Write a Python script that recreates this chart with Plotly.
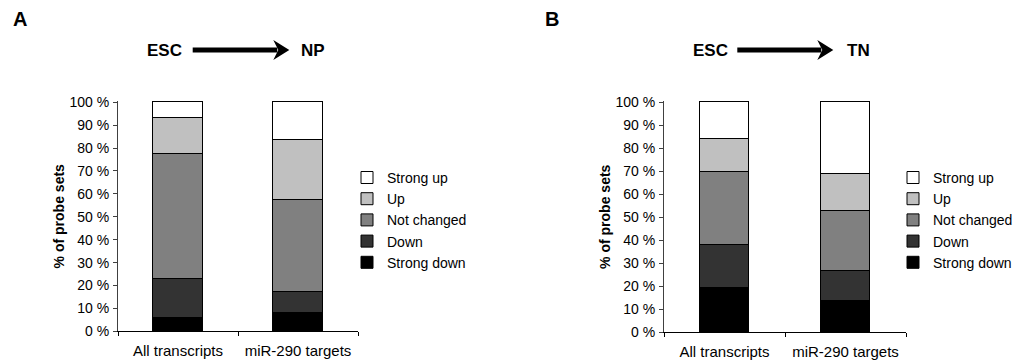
import plotly.graph_objects as go

W, H = 1022, 360
# effective rendered paper height and top offset observed in the screenshot
H_EFF, Y_OFF = 342, 10

categories = ["All transcripts", "miR-290 targets"]
series_names = ["Strong down", "Down", "Not changed", "Up", "Strong up"]
series_colors = ["#000000", "#333333", "#808080", "#c0c0c0", "#ffffff"]

# Panel A: ESC -> NP (percent of probe sets)
a_strong_down = [5.7, 8.0]
a_down = [17.0, 9.1]
a_not_changed = [54.8, 40.4]
a_up = [15.8, 25.8]
a_strong_up = [6.7, 16.7]

# Panel B: ESC -> TN
b_strong_down = [19.1, 13.8]
b_down = [18.9, 12.7]
b_not_changed = [31.7, 26.3]
b_up = [14.4, 15.9]
b_strong_up = [15.9, 31.3]

y_tickvals = [0, 10, 20, 30, 40, 50, 60, 70, 80, 90, 100]
y_ticktext = ["0 %", "10 %", "20 %", "30 %", "40 %", "50 %", "60 %", "70 %", "80 %", "90 %", "100 %"]

FONT = "Arial, Liberation Sans, sans-serif"


def px(x):
    return x / W


def py(y):
    return 1 - (y - Y_OFF) / H_EFF


fig = go.Figure()

a_series = [a_strong_down, a_down, a_not_changed, a_up, a_strong_up]
b_series = [b_strong_down, b_down, b_not_changed, b_up, b_strong_up]

for name, color, vals in zip(series_names, series_colors, a_series):
    fig.add_trace(go.Bar(x=categories, y=vals, name=name, width=0.41,
                         marker=dict(color=color, line=dict(color="black", width=1)),
                         xaxis="x", yaxis="y", legend="legend"))
for name, color, vals in zip(series_names, series_colors, b_series):
    fig.add_trace(go.Bar(x=categories, y=vals, name=name, width=0.41,
                         marker=dict(color=color, line=dict(color="black", width=1)),
                         xaxis="x2", yaxis="y2", legend="legend2"))

xcommon = dict(type="category", range=[-0.5, 1.5], showline=True, linecolor="black", linewidth=1,
               ticks="outside", ticklen=4, tickcolor="black", tickson="boundaries",
               tickfont=dict(family=FONT, size=15, color="black"), ticklabelstandoff=6,
               showgrid=False, zeroline=False, fixedrange=True)
ycommon = dict(range=[0, 100.5], tickvals=y_tickvals, ticktext=y_ticktext, showline=True,
               linecolor="#404040", linewidth=1, ticks="outside", ticklen=4, tickcolor="#404040",
               tickfont=dict(family=FONT, size=14, color="black"), ticklabelstandoff=1,
               showgrid=False, zeroline=False,
               title=dict(text="<b>% of probe sets</b>", font=dict(family=FONT, size=14, color="black"),
                          standoff=1),
               fixedrange=True)

legcommon = dict(font=dict(family=FONT, size=14, color="black"), traceorder="reversed",
                 bgcolor="rgba(0,0,0,0)", xanchor="left", yanchor="top", itemwidth=30)

top_px = 104.7 - 0.5 * 2.278
fig.update_layout(
    width=W, height=H, margin=dict(l=0, r=0, t=0, b=0),
    paper_bgcolor="white", plot_bgcolor="white", barmode="stack", bargap=0,
    xaxis=dict(domain=[px(118), px(358)], anchor="y", **xcommon),
    yaxis=dict(domain=[py(332.5), py(top_px)], anchor="x", **ycommon),
    xaxis2=dict(domain=[px(664), px(906)], anchor="y2", **xcommon),
    yaxis2=dict(domain=[py(333.5), py(top_px)], anchor="x2", **ycommon),
    legend=dict(x=px(347), y=py(164), **legcommon),
    legend2=dict(x=px(893), y=py(164), **legcommon),
    showlegend=True,
)

# Panel letters and transition titles
labels = [("A", 20, 22, 20), ("B", 552, 22, 20),
          ("ESC", 164, 53, 17), ("NP", 313, 53, 17),
          ("ESC", 710.5, 53, 17), ("TN", 858, 53, 17)]
for text, x, y, size in labels:
    fig.add_annotation(text=f"<b>{text}</b>", x=px(x), y=py(y), xref="paper", yref="paper",
                       showarrow=False, xanchor="center", yanchor="middle",
                       font=dict(family=FONT, size=size, color="black"))

# Arrows
for x0, x1 in [(192.7, 289.3), (737.3, 833.3)]:
    yc = 52.7
    fig.add_shape(type="line", xref="paper", yref="paper", x0=px(x0), x1=px(x1 - 12),
                  y0=py(yc), y1=py(yc), line=dict(color="black", width=5))
    fig.add_shape(type="path", xref="paper", yref="paper",
                  path=f"M {px(x1 - 16)} {py(yc - 10)} L {px(x1)} {py(yc)} L {px(x1 - 16)} {py(yc + 10)} L {px(x1 - 11)} {py(yc)} Z",
                  fillcolor="black", line=dict(color="black", width=0))

fig.write_html("out.html", config={"displayModeBar": False},
               post_script="document.body.style.margin='0';document.body.style.overflow='hidden';")
